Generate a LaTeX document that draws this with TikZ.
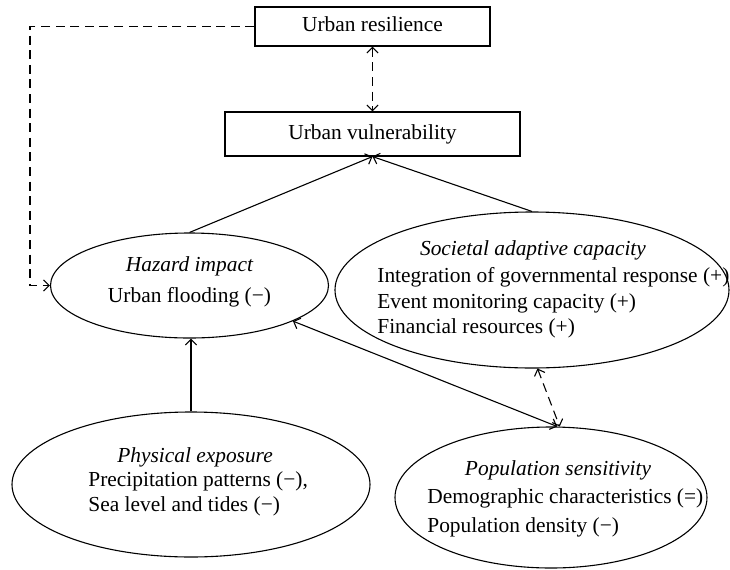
\documentclass[tikz,border=0pt]{standalone}
\usepackage{fontspec}
\setmainfont{Liberation Serif}
\usetikzlibrary{arrows.meta,shapes.geometric}
\tikzset{
  txt/.style={font=\fontsize{10.7}{13}\selectfont, inner sep=0pt, text height=7pt, text depth=2pt},
  ttl/.style={txt, font=\fontsize{10.7}{13}\selectfont\itshape},
  box/.style={draw, line width=0.55pt, rectangle, inner sep=0pt, txt},
  ell/.style={draw, line width=0.55pt, ellipse, inner sep=0pt},
  con/.style={line width=0.55pt, {Straight Barb[length=2.8pt,width=5.6pt]}-{Straight Barb[length=2.8pt,width=5.6pt]}},
  arr/.style={line width=0.55pt, -{Straight Barb[length=2.8pt,width=5.6pt]}},
  dsh/.style={dash pattern=on 4.5pt off 2.8pt}
}
\begin{document}
\begin{tikzpicture}[x=0.5pt,y=-0.5pt]
\useasboundingbox (0,0) rectangle (730,569);
% boxes
\node[box, minimum width=117.5pt, minimum height=19.5pt] (res) at (372.5,26.5) {Urban resilience};
\node[box, minimum width=147.5pt, minimum height=22pt] (vul) at (372.5,134) {Urban vulnerability};
% ellipses
\node[ell, minimum width=139pt, minimum height=52.5pt] (haz) at (189.5,285.5) {};
\node[ell, minimum width=197pt, minimum height=78pt] (soc) at (532,290) {};
\node[ell, minimum width=179pt, minimum height=72.5pt] (phys) at (191,484.5) {};
\node[ell, minimum width=156pt, minimum height=70.5pt] (pop) at (551,497.5) {};
% texts
\node[ttl] (hazT) at (189.5,266) {Hazard impact};
\node[txt] (hazA) at (189.5,297) {Urban flooding (−)};
\node[ttl] (socT) at (533,250) {Societal adaptive capacity};
\node[txt, anchor=west] (socA) at (377,277) {Integration of governmental response (+)};
\node[txt, anchor=west] (socB) at (377,303) {Event monitoring capacity (+)};
\node[txt, anchor=west] (socC) at (377,328) {Financial resources (+)};
\node[ttl] (physT) at (195,457) {Physical exposure};
\node[txt, anchor=west] (physA) at (88,481) {Precipitation patterns (−),};
\node[txt, anchor=west] (physB) at (88,506) {Sea level and tides (−)};
\node[ttl] (popT) at (558,470) {Population sensitivity};
\node[txt, anchor=west] (popA) at (427,498) {Demographic characteristics (=)};
\node[txt, anchor=west] (popB) at (427,527) {Population density (−)};
% connectors
\coordinate (bend) at (30,285.5);
\draw[con, dsh] (res.south) -- (vul.north);
\draw[arr, dsh] (res.west) -| (bend) -- (haz.west);
\draw[arr] (haz.north) -- (vul.south);
\draw[arr] (soc.north) -- (vul.south);
\draw[arr] (phys.north) -- (phys.north |- haz.south);
\draw[con] (haz.-19) -- (pop.85);
\draw[con, dsh] (soc.-86) -- (pop.83);
\end{tikzpicture}
\end{document}
